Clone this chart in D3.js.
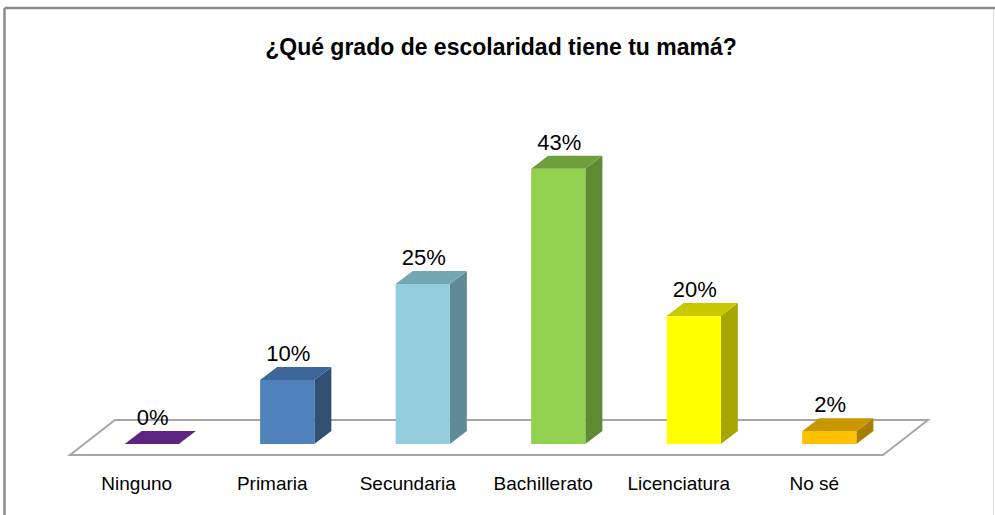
<!DOCTYPE html>
<html>
<head>
<meta charset="utf-8">
<script src="https://cdn.jsdelivr.net/npm/d3@7"></script>
<style>
  html, body { margin: 0; padding: 0; background: #fff; }
  svg { display: block; }
</style>
</head>
<body>
<div id="chart"></div>
<script>
const title = "¿Qué grado de escolaridad tiene tu mamá?"
const categories = ["Ninguno", "Primaria", "Secundaria", "Bachillerato", "Licenciatura", "No sé"]
const values = [0, 10, 25, 43, 20, 2]
const frontColors = ["#7030a0", "#4f81bd", "#93cddd", "#92d050", "#ffff00", "#ffc000"]
const topColors = ["#5b2580", "#3f6698", "#74a6b3", "#6f9e3d", "#c8c800", "#c89700"]
const sideColors = ["#4a1e6a", "#324f74", "#5f8a96", "#5f8a34", "#a6a600", "#a87e00"]

const width = 995, height = 515
const svg = d3.select("#chart").append("svg")
   .attr("width", width)
   .attr("height", height)

// frame
svg.append("line").attr("x1", 4.5).attr("y1", 8).attr("x2", 995).attr("y2", 8)
   .attr("stroke", "#8c8c8c").attr("stroke-width", 2.5)
svg.append("line").attr("x1", 4.5).attr("y1", 8).attr("x2", 4.5).attr("y2", 515)
   .attr("stroke", "#8c8c8c").attr("stroke-width", 2.5)
svg.append("line").attr("x1", 993.5).attr("y1", 9).attr("x2", 993.5).attr("y2", 515)
   .attr("stroke", "#dcdcdc").attr("stroke-width", 1)

svg.append("text")
   .attr("x", 501).attr("y", 55)
   .attr("text-anchor", "middle")
   .style("font-family", "'Liberation Sans', Arial, sans-serif")
   .style("font-weight", "bold")
   .style("font-size", "23px")
   .text(title)

// floor in oblique projection
const floorFront = 455, floorLeft = 70, floorRight = 883
const depthX = 45, depthY = -35
const barDX = 17, barDY = -13
const offX = 14, offY = -11

const x = d3.scaleBand().domain(categories).range([floorLeft, floorRight]).padding(0)
const y = d3.scaleLinear().domain([0, 50]).range([floorFront + offY, floorFront + offY - 320])

const floorPts = [
   [floorLeft, floorFront], [floorRight, floorFront],
   [floorRight + depthX, floorFront + depthY], [floorLeft + depthX, floorFront + depthY]
]
svg.append("polygon")
   .attr("points", floorPts.map(p => p.join(",")).join(" "))
   .attr("fill", "#fff")
   .attr("stroke", "#a6a6a6")
   .attr("stroke-width", 2)

const bw = x.bandwidth() * 0.4
const bars = categories.map((c, i) => {
   const x0 = x(c) + x.bandwidth() * 0.3 + offX
   return { c, v: values[i], i, x0, x1: x0 + bw, yb: y(0), yt: y(values[i]) }
})

const g = svg.append("g")
const pts = arr => arr.map(p => p.join(",")).join(" ")

bars.forEach(b => {
   const grp = g.append("g")
   if (b.v > 0) {
      grp.append("polygon")
         .attr("points", pts([[b.x1, b.yb], [b.x1 + barDX, b.yb + barDY], [b.x1 + barDX, b.yt + barDY], [b.x1, b.yt]]))
         .attr("fill", sideColors[b.i])
      grp.append("rect")
         .attr("x", b.x0).attr("y", b.yt)
         .attr("width", bw).attr("height", b.yb - b.yt)
         .attr("fill", frontColors[b.i])
   }
   grp.append("polygon")
      .attr("points", pts([[b.x0, b.yt], [b.x1, b.yt], [b.x1 + barDX, b.yt + barDY], [b.x0 + barDX, b.yt + barDY]]))
      .attr("fill", topColors[b.i])
})

// value labels
g.selectAll(".val").data(bars).enter().append("text")
   .attr("class", "val")
   .attr("x", d => (d.x0 + d.x1) / 2 + 1)
   .attr("y", d => d.yt + barDY - 6)
   .attr("text-anchor", "middle")
   .style("font-family", "'Liberation Sans', Arial, sans-serif")
   .style("font-size", "22px")
   .attr("fill", "#000")
   .text(d => d.v + "%")

// category labels
svg.selectAll(".cat").data(categories).enter().append("text")
   .attr("class", "cat")
   .attr("x", d => x(d) + x.bandwidth() / 2 - 1)
   .attr("y", 490)
   .attr("text-anchor", "middle")
   .style("font-family", "'Liberation Sans', Arial, sans-serif")
   .style("font-size", "19px")
   .attr("fill", "#000")
   .text(d => d)
</script>
</body>
</html>
